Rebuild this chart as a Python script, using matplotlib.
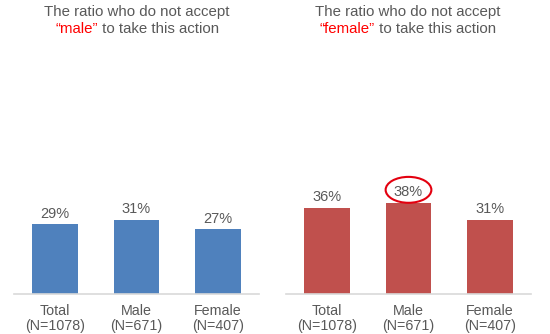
import matplotlib.pyplot as plt
from matplotlib.patches import Ellipse

plt.rcParams['font.family'] = ['Liberation Sans', 'DejaVu Sans']

categories = ['Total\n(N=1078)', 'Male\n(N=671)', 'Female\n(N=407)']
not_accept_male = [29, 31, 27]
not_accept_female = [36, 38, 31]
subjects = ['male', 'female']
highlight_idx = 1  # circled bar in the "female" panel

BLUE = '#4F81BD'
RED = '#C0504D'
TEXT = '#595959'
W, H = 550, 334

fig = plt.figure(figsize=(5.5, 3.34), dpi=100)
renderer = fig.canvas.get_renderer()


def px(x, y):
    # pixel coords from top-left -> figure fraction
    return x / W, 1 - y / H


def two_line_title(cx, word):
    fig.text(*px(cx, 16), 'The ratio who do not accept', ha='center',
             va='baseline', fontsize=10.8, color=TEXT)
    parts = [('\u201c' + word + '\u201d', '#FF0000'), (' to take this action', TEXT)]
    texts = [fig.text(0, 0, s, fontsize=10.8, color=c, va='baseline') for s, c in parts]
    widths = [t.get_window_extent(renderer).width for t in texts]
    x = cx - sum(widths) / 2
    for t, w in zip(texts, widths):
        t.set_position(px(x, 33))
        x += w


def panel(left_px, values, color):
    l, b = px(left_px, 294)
    ax = fig.add_axes([l, b, 245 / W, 120 / H])
    xs = range(len(values))
    bars = ax.bar(xs, values, width=0.56, color=color, edgecolor='none')
    for rect, v in zip(bars, values):
        ax.annotate(f'{v}%', (rect.get_x() + rect.get_width() / 2, v),
                    xytext=(0, 2.5), textcoords='offset points', ha='center',
                    va='bottom', fontsize=10.5, color=TEXT)
    ax.set_xlim(-0.5, 2.5)
    ax.set_ylim(0, 50)
    ax.set_xticks(list(xs))
    ax.set_xticklabels(categories, fontsize=10.3, color=TEXT, linespacing=1.15)
    ax.tick_params(axis='x', length=0, pad=7)
    ax.set_yticks([])
    for side in ['top', 'right', 'left']:
        ax.spines[side].set_visible(False)
    ax.spines['bottom'].set_color('#D9D9D9')
    ax.spines['bottom'].set_linewidth(1.2)
    return ax


ax1 = panel(14, not_accept_male, BLUE)
ax2 = panel(286, not_accept_female, RED)

two_line_title(137, subjects[0])
two_line_title(408, subjects[1])

# ring around the highest value
v = not_accept_female[highlight_idx]
ax2.add_patch(Ellipse((highlight_idx, v + 5.4), 0.56, 10.8, fill=False,
                      edgecolor='#E3000F', linewidth=1.5, clip_on=False))

fig.savefig('out.png', dpi=100)
